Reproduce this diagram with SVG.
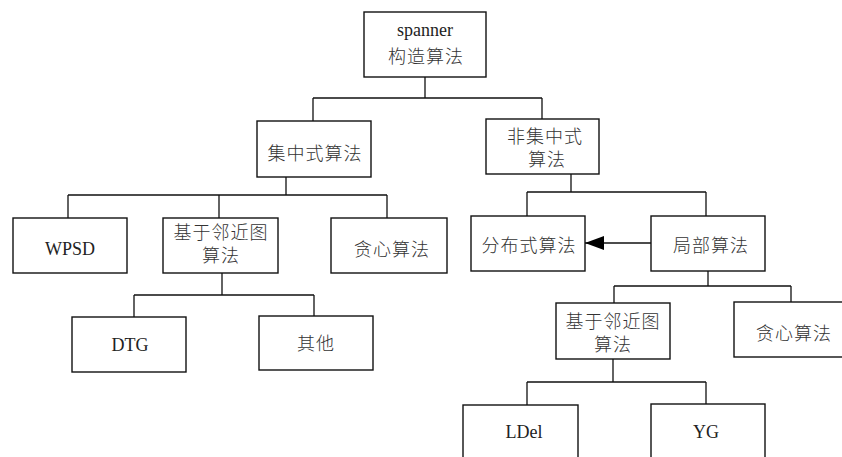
<svg xmlns="http://www.w3.org/2000/svg" width="842" height="457" viewBox="0 0 842 457">
<style>
.box{fill:#fff;stroke:#111;stroke-width:1.4}
.ln{fill:none;stroke:#111;stroke-width:1.3}
.t{font-family:"Liberation Serif","Noto Sans CJK SC",serif;font-size:18px;fill:#222;text-anchor:middle}
.c{font-family:"Liberation Serif","Noto Sans CJK SC",serif;font-size:18px;fill:#333;text-anchor:middle;font-weight:300;letter-spacing:1px}
</style>
<defs>
<marker id="ah" viewBox="0 0 19 14" refX="19" refY="7" markerWidth="19" markerHeight="14" markerUnits="userSpaceOnUse" orient="auto">
<path d="M0,0 L19,7 L0,14 Z" fill="#000"/>
</marker>
</defs>
<rect width="842" height="457" fill="#fff"/>
<g id="connectors">
<path class="ln" d="M425,77 V98 M313,98 H542 M313,98 V121 M542,98 V119"/>
<path class="ln" d="M286,177 V195 M68,195 H387 M68,195 V218 M219,195 V218 M387,195 V218"/>
<path class="ln" d="M571,174 V192 M527,192 H706 M527,192 V216 M706,192 V216"/>
<path class="ln" d="M222,273 V295 M134,295 H314 M134,295 V317 M314,295 V316"/>
<path class="ln" d="M708,271 V286 M614,286 H791 M614,286 V303 M791,286 V302"/>
<path class="ln" d="M613,359 V382 M527,382 H706 M527,382 V405 M706,382 V404"/>
<path class="ln" d="M651,243 H585" marker-end="url(#ah)"/>
</g>
<g id="root"><rect class="box" x="364" y="12" width="122" height="65"/><text class="t" x="425" y="36">spanner</text><text class="c" x="426" y="63">构造算法</text></g>
<g id="centralized"><rect class="box" x="257" y="121" width="114" height="56"/><text class="c" x="315" y="160">集中式算法</text></g>
<g id="decentralized"><rect class="box" x="486" y="119" width="113" height="55"/><text class="c" x="545" y="143">非集中式</text><text class="c" x="547" y="166">算法</text></g>
<g id="wpsd"><rect class="box" x="13" y="218" width="114" height="55"/><text class="t" x="70" y="255">WPSD</text></g>
<g id="proximity1"><rect class="box" x="163" y="218" width="115" height="55"/><text class="c" x="221" y="239">基于邻近图</text><text class="c" x="221" y="262">算法</text></g>
<g id="greedy1"><rect class="box" x="331" y="218" width="116" height="55"/><text class="c" x="392" y="256">贪心算法</text></g>
<g id="distributed"><rect class="box" x="471" y="216" width="114" height="55"/><text class="c" x="529" y="252">分布式算法</text></g>
<g id="local"><rect class="box" x="651" y="216" width="114" height="55"/><text class="c" x="711" y="252">局部算法</text></g>
<g id="dtg"><rect class="box" x="72" y="317" width="114" height="55"/><text class="t" x="130" y="351">DTG</text></g>
<g id="other"><rect class="box" x="259" y="316" width="114" height="54"/><text class="c" x="316" y="350">其他</text></g>
<g id="proximity2"><rect class="box" x="556" y="303" width="114" height="56"/><text class="c" x="613" y="328">基于邻近图</text><text class="c" x="613" y="351">算法</text></g>
<g id="greedy2"><rect class="box" x="734" y="302" width="114" height="55"/><text class="c" x="794" y="340">贪心算法</text></g>
<g id="ldel"><rect class="box" x="463" y="405" width="115" height="60"/><text class="t" x="524" y="438">LDel</text></g>
<g id="yg"><rect class="box" x="651" y="404" width="114" height="60"/><text class="t" x="706" y="438">YG</text></g>
</svg>
